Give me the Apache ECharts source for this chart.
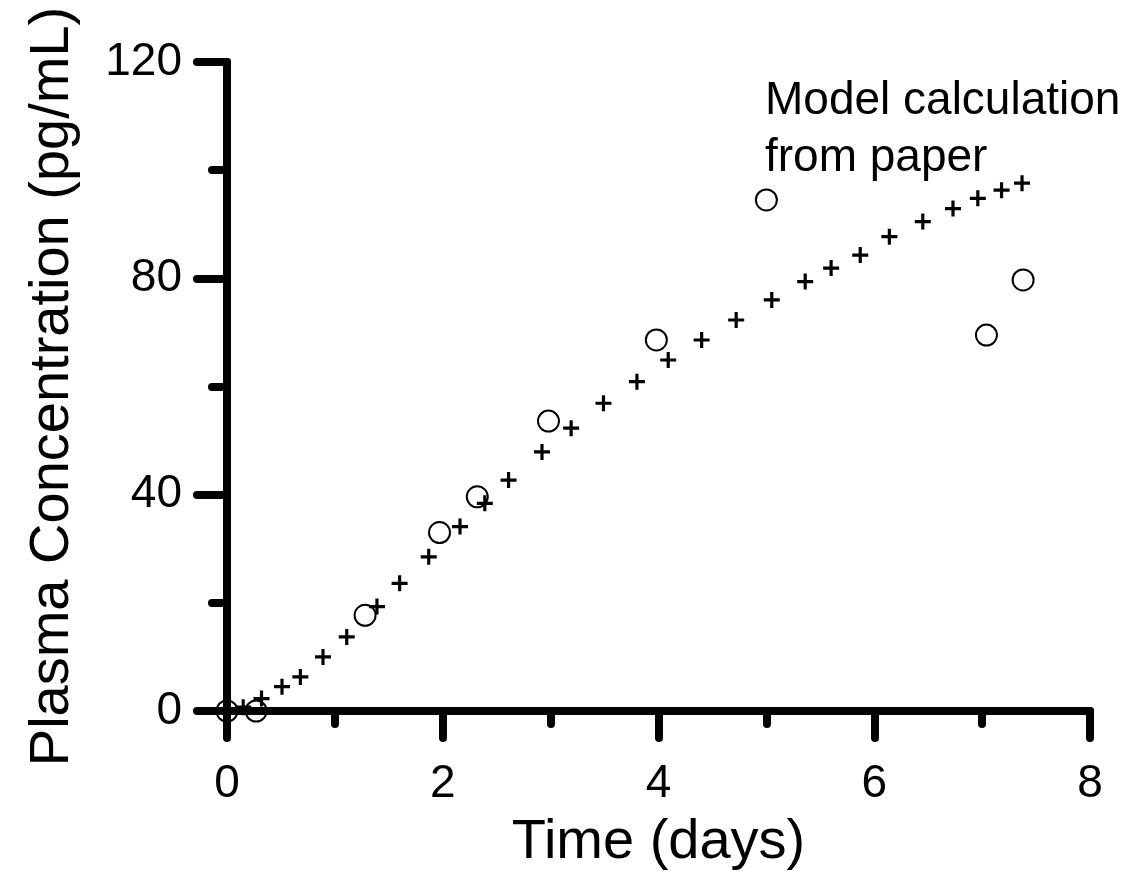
<!DOCTYPE html>
<html>
<head>
<meta charset="utf-8">
<script src="https://cdn.jsdelivr.net/npm/echarts@6/dist/echarts.min.js"></script>
<style>
html,body{margin:0;padding:0;background:#fff;}
#chart{width:1140px;height:871px;}
</style>
</head>
<body>
<div id="chart"></div>
<script>
// Observed data (open circles)
var obsX = [0, 0.27, 1.28, 1.97, 2.32, 2.98, 3.98, 5.0, 7.04, 7.38];
var obsY = [0, 0, 17.7, 33.0, 39.6, 53.6, 68.6, 94.5, 69.5, 79.7];
// Model calculation (crosses)
var modelX = [0, 0.15, 0.32, 0.51, 0.68, 0.89, 1.11, 1.39, 1.60, 1.87, 2.16, 2.39, 2.61, 2.92, 3.19, 3.49, 3.80, 4.09, 4.40, 4.72, 5.05, 5.36, 5.60, 5.87, 6.14, 6.45, 6.73, 6.96, 7.18, 7.37];
var modelY = [0, 0.7, 2.3, 4.5, 6.3, 10.0, 13.7, 19.3, 23.6, 28.5, 34.1, 38.4, 42.7, 47.9, 52.3, 56.9, 60.9, 64.9, 68.6, 72.3, 76.0, 79.4, 81.9, 84.3, 87.7, 90.5, 92.9, 94.8, 96.3, 97.6];
var xTitle = 'Time (days)';
var yTitle = 'Plasma Concentration (pg/mL)';
var annotation = 'Model calculation\nfrom paper';

var FONT = '"Liberation Sans", Arial, Helvetica, sans-serif';
function pairs(xs, ys){ return xs.map(function(x,i){ return [x, ys[i]]; }); }

var chart = echarts.init(document.getElementById('chart'), null, {renderer:'canvas'});
var plus = 'path://M6,0L9,0L9,6L15,6L15,9L9,9L9,15L6,15L6,9L0,9L0,6L6,6Z';

chart.setOption({
  animation: false,
  backgroundColor: '#fff',
  grid: {left: 227, right: 50, top: 62, bottom: 160, containLabel: false, outerBoundsMode: 'none'},
  xAxis: {
    type: 'value', min: 0, max: 8, interval: 2,
    name: xTitle, nameLocation: 'middle', nameGap: 104,
    nameTextStyle: {fontFamily: FONT, fontSize: 56, color: '#000'},
    axisLine: {show: true, onZero: false, lineStyle: {color: '#000', width: 8, cap: 'round'}},
    axisTick: {show: true, length: 27, lineStyle: {color: '#000', width: 8, cap: 'round'}},
    minorTick: {show: true, splitNumber: 2, length: 13, lineStyle: {color: '#000', width: 8, cap: 'round'}},
    axisLabel: {fontFamily: FONT, fontSize: 46, color: '#000', margin: 50},
    splitLine: {show: false}
  },
  yAxis: {
    type: 'value', min: 0, max: 120, interval: 40,
    name: yTitle, nameLocation: 'middle', nameGap: 146,
    nameTextStyle: {fontFamily: FONT, fontSize: 56, color: '#000'},
    axisLine: {show: true, onZero: false, lineStyle: {color: '#000', width: 8, cap: 'round'}},
    axisTick: {show: true, length: 30, lineStyle: {color: '#000', width: 8, cap: 'round'}},
    minorTick: {show: true, splitNumber: 2, length: 15, lineStyle: {color: '#000', width: 8, cap: 'round'}},
    axisLabel: {fontFamily: FONT, fontSize: 46, color: '#000', margin: 45},
    splitLine: {show: false}
  },
  graphic: [{
    type: 'text', left: 765, top: 73,
    style: {text: annotation, font: '46px ' + FONT, fill: '#000', lineHeight: 57}
  }],
  series: [
    {
      type: 'scatter', name: 'Model', data: pairs(modelX, modelY),
      symbol: plus, symbolSize: 16, clip: false,
      itemStyle: {color: '#000', opacity: 1}
    },
    {
      type: 'scatter', name: 'Observed', data: pairs(obsX, obsY),
      symbol: 'circle', symbolSize: 21, clip: false,
      itemStyle: {color: 'rgba(0,0,0,0)', borderColor: '#000', borderWidth: 2, opacity: 1}
    }
  ]
});
</script>
</body>
</html>
